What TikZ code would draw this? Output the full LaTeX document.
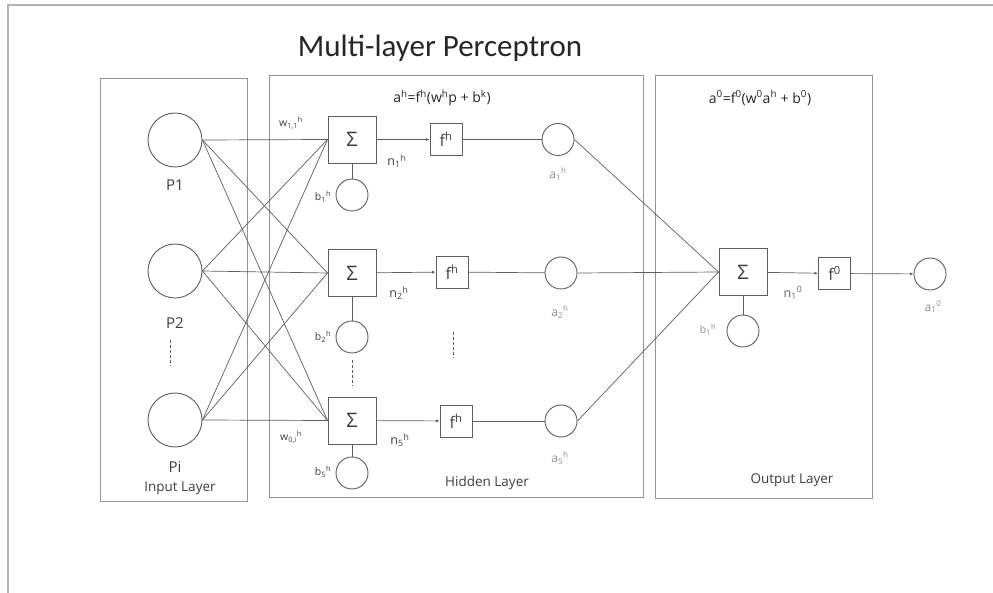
\documentclass[tikz,border=0pt]{standalone}
\usepackage{fontspec}
\setmainfont{Open Sans}
\newfontfamily\titlefont{Carlito}
\usetikzlibrary{arrows.meta}
\definecolor{ln}{HTML}{5E5E5E}
\definecolor{bx}{HTML}{939393}
\definecolor{tx}{HTML}{3E3E3E}
\definecolor{lt}{HTML}{8E8E8E}
\newcommand{\sbp}[3]{#1\textsubscript{#2}\textsuperscript{#3}}
\tikzset{
  layerbox/.style={draw=bx, line width=0.9pt},
  neuron/.style={circle, draw=ln, line width=0.9pt, minimum size=54pt, inner sep=0pt},
  smallc/.style={circle, draw=ln, line width=0.9pt, minimum size=32pt, inner sep=0pt},
  sumbox/.style={rectangle, draw=ln, line width=0.9pt, minimum width=48pt, minimum height=47pt, inner sep=0pt, font=\fontsize{20}{20}\selectfont, text=tx},
  fbox/.style={rectangle, draw=ln, line width=0.9pt, minimum size=32pt, inner sep=0pt, font=\fontsize{16}{16}\selectfont, text=tx},
  conn/.style={draw=ln, line width=0.7pt},
  arr/.style={conn, -{Latex[length=3.5pt,width=3pt]}},
  dots/.style={draw=ln, line width=0.8pt, dash pattern=on 3pt off 2pt},
  plab/.style={font=\fontsize{15}{15}\selectfont, text=tx},
  llab/.style={font=\fontsize{13.5}{14}\selectfont, text=tx},
  slab/.style={font=\fontsize{10.5}{11}\selectfont, text=tx},
  nlab/.style={font=\fontsize{12.5}{13}\selectfont, text=tx},
  alab/.style={font=\fontsize{12}{12}\selectfont, text=lt},
  flab/.style={font=\fontsize{14}{14}\selectfont, text=black!85},
}
\begin{document}
\begin{tikzpicture}[x=1pt,y=-1pt]
\useasboundingbox (0,0) rectangle (993,593);
% outer frame
\draw[draw=black!30, line width=1.6pt] (8,593) -- (8,5) -- (993,5);
% title
\node[font=\titlefont\fontsize{31}{31}\selectfont, text=black!85] (title) at (440,48) {Multi-layer Perceptron};
% layer boxes
\draw[layerbox] (100,78) rectangle (247,501);
\draw[layerbox] (269,75) rectangle (643,497);
\draw[layerbox] (655,75) rectangle (872,498);
\node[llab] (inlab) at (180,488) {Input Layer};
\node[llab] (hidlab) at (487,483) {Hidden Layer};
\node[llab] (outlab) at (792,480) {Output Layer};
% formulas
\node[flab] (fh) at (442,98) {a\textsuperscript{h}=f\textsuperscript{h}(w\textsuperscript{h}p + b\textsuperscript{k})};
\node[flab] (fo) at (760,98) {a\textsuperscript{0}=f\textsuperscript{0}(w\textsuperscript{0}a\textsuperscript{h} + b\textsuperscript{0})};
% inputs
\node[neuron] (p1) at (175,140) {};
\node[neuron] (p2) at (175,271) {};
\node[neuron] (pi) at (175,420) {};
\node[plab] (p1l) at (175,185) {P1};
\node[plab] (p2l) at (175,323) {P2};
\node[plab] (pil) at (175,467) {Pi};
\coordinate (pd1) at (170,340);
\coordinate (pd2) at (170,366);
\draw[dots] (pd1) -- (pd2);
% hidden sums
\node[sumbox] (s1) at (352,139.5) {Σ};
\node[sumbox] (s2) at (352,273) {Σ};
\node[sumbox] (s3) at (352,420.5) {Σ};
\node[smallc] (b1) at (352,195) {};
\node[smallc] (b2) at (352,337) {};
\node[smallc] (b5) at (352,473) {};
\draw[conn] (s1) -- (b1);
\draw[conn] (s2) -- (b2);
\draw[conn] (s3) -- (b5);
\coordinate (bd1) at (352,360);
\coordinate (bd2) at (352,386);
\draw[dots] (bd1) -- (bd2);
\node[slab] (w11) at (291,123) {\sbp{w}{1,1}{h}};
\node[slab] (w0i) at (291,437) {\sbp{w}{0,i}{h}};
\node[slab] (b1l) at (323,197) {\sbp{b}{1}{h}};
\node[slab] (b2l) at (323,337) {\sbp{b}{2}{h}};
\node[slab] (b5l) at (323,472) {\sbp{b}{5}{h}};
% input connections
\foreach \p in {p1,p2,pi}{
  \foreach \s in {s1,s2,s3}{
    \draw[conn] (\p.east) -- (\s.west);
  }
}
% transfer boxes
\node[fbox] (f1) at (446,139.5) {f\textsuperscript{h}};
\node[fbox] (f2) at (452,272) {f\textsuperscript{h}};
\node[fbox] (f3) at (456,421) {f\textsuperscript{h}};
\draw[arr] (s1) -- (f1);
\draw[arr] (s2) -- (f2);
\draw[arr] (s3) -- (f3);
\node[nlab] (n1) at (397,161) {\sbp{n}{1}{h}};
\node[nlab] (n2) at (399,293) {\sbp{n}{2}{h}};
\node[nlab] (n5) at (400,440) {\sbp{n}{5}{h}};
\coordinate (fd1) at (453,332);
\coordinate (fd2) at (453,358);
\draw[dots] (fd1) -- (fd2);
% hidden outputs
\node[smallc] (a1) at (558,139.5) {};
\node[smallc] (a2) at (561,273) {};
\node[smallc] (a5) at (561,421) {};
\draw[conn] (f1) -- (a1);
\draw[conn] (f2) -- (a2);
\draw[conn] (f3) -- (a5);
\node[alab] (a1l) at (558,174) {\sbp{a}{1}{h}};
\node[alab] (a2l) at (560,312) {\sbp{a}{2}{h}};
\node[alab] (a5l) at (560,458) {\sbp{a}{5}{h}};
% output layer
\node[sumbox] (so) at (743,272) {Σ};
\node[smallc] (bo) at (743,331) {};
\draw[conn] (so) -- (bo);
\node[slab, text=lt] (bol) at (708,330) {\sbp{b}{1}{h}};
\foreach \a in {a1,a2,a5}{
  \draw[conn] (\a.east) -- (so.west);
}
\node[fbox] (fo1) at (834.5,273.5) {f\textsuperscript{0}};
\draw[arr] (so) -- (fo1);
\node[nlab, text=tx!80] (no) at (793,293) {\sbp{n}{1}{0}};
\node[smallc] (ao) at (930,274) {};
\draw[arr] (fo1) -- (ao);
\node[alab] (aol) at (933,307) {\sbp{a}{1}{0}};
\end{tikzpicture}
\end{document}
